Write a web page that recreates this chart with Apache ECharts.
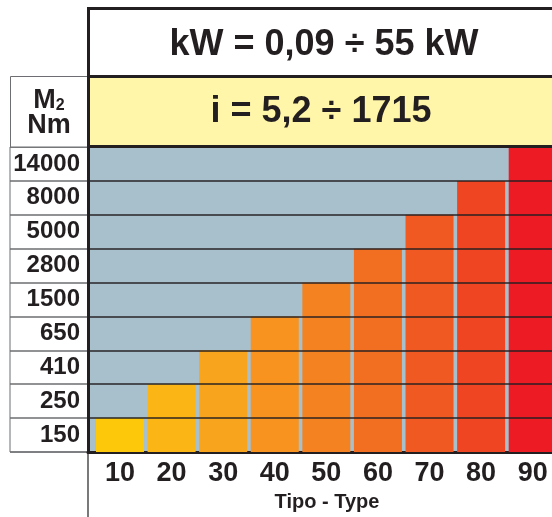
<!DOCTYPE html>
<html><head><meta charset="utf-8">
<script src="https://cdn.jsdelivr.net/npm/echarts@6/dist/echarts.min.js"></script>
<style>html,body{margin:0;padding:0;background:#fff}#c{width:552px;height:517px}</style>
</head><body><div id="c"></div>
<script>
const types = [10, 20, 30, 40, 50, 60, 70, 80, 90];
const torqueTicks = ['150', '250', '410', '650', '1500', '2800', '5000', '8000', '14000'];
const maxTorque = ['150', '250', '410', '650', '1500', '2800', '5000', '8000', '14000'];
const barColors = ['#fec80a', '#fbb615', '#f8a51d', '#f7931e', '#f58220', '#f26f21', '#f05a22', '#ef4523', '#ed1c24'];
const powerText = 'kW = 0,09 ÷ 55 kW';
const ratioText = 'i = 5,2 ÷ 1715';
const xTitle = 'Tipo - Type';

const ink = '#231f20';
const chart = echarts.init(document.getElementById('c'), null, {renderer: 'canvas'});
const barData = types.map((t, i) => ({
  value: [t, torqueTicks.indexOf(maxTorque[i]) + 1],
  itemStyle: {color: barColors[i]}
}));
const rowLines = torqueTicks.slice(1).map((_, i) => ({yAxis: i + 1}));
const sans = "'Liberation Sans', Arial, sans-serif";
chart.setOption({
  animation: false,
  grid: [
    {left: 88, top: 147, right: 0, height: 305, show: true, backgroundColor: '#a8bfcc', borderWidth: 0},
    {left: 10, top: 147, width: 78, height: 305, show: true, backgroundColor: '#ffffff', borderColor: '#6d6e71', borderWidth: 1}
  ],
  xAxis: [
    {gridIndex: 0, type: 'value', min: 3.8, max: 93.74,
     axisLine: {show: true, onZero: false, lineStyle: {color: ink, width: 3}},
     axisTick: {show: false}, splitLine: {show: false},
     axisLabel: {customValues: types, margin: 8, color: ink, fontSize: 27, fontWeight: 'bold', fontFamily: sans}},
    {gridIndex: 1, type: 'value', show: false}
  ],
  yAxis: [
    {gridIndex: 0, type: 'value', min: 0, max: 9, interval: 1,
     axisLine: {show: true, lineStyle: {color: ink, width: 3}},
     axisTick: {show: false}, axisLabel: {show: false},
     splitLine: {show: false}},
    {gridIndex: 1, type: 'category', data: torqueTicks, position: 'right',
     axisLine: {show: false}, axisTick: {show: false},
     axisLabel: {inside: true, interval: 0, margin: 8, color: ink, fontSize: 24, fontWeight: 'bold', fontFamily: sans},
     splitLine: {show: true, lineStyle: {color: '#6d6e71', width: 1.5}}}
  ],
  series: [{
    type: 'bar', xAxisIndex: 0, yAxisIndex: 0, barWidth: 48, data: barData, z: 2,
    markLine: {silent: true, symbol: 'none', label: {show: false}, z: 8,
      lineStyle: {type: 'solid', color: 'rgba(35,31,32,0.72)', width: 2},
      data: rowLines}
  }],
  graphic: [
    {type: 'rect', shape: {x: 88.5, y: 8.5, width: 480, height: 68}, style: {fill: '#fff', stroke: ink, lineWidth: 3}, z: 5},
    {type: 'rect', shape: {x: 88.5, y: 76.5, width: 480, height: 70}, style: {fill: '#fff6a9', stroke: ink, lineWidth: 3}, z: 5},
    {type: 'rect', shape: {x: 10.5, y: 76.5, width: 78, height: 70.5}, style: {fill: '#fff', stroke: '#6d6e71', lineWidth: 1}, z: 4},
    {type: 'line', shape: {x1: 88, y1: 452, x2: 88, y2: 517}, style: {stroke: ink, lineWidth: 1.2}, z: 5},
    {type: 'text', x: 324, y: 45, style: {text: powerText, fill: ink, font: "bold 36px " + sans, textAlign: 'center', textVerticalAlign: 'middle'}, z: 6},
    {type: 'text', x: 321, y: 112, style: {text: ratioText, fill: ink, font: "bold 36px " + sans, textAlign: 'center', textVerticalAlign: 'middle'}, z: 6},
    {type: 'text', x: 49, y: 100, style: {text: '{a|M}{b|2}', textAlign: 'center', textVerticalAlign: 'middle',
      rich: {a: {fontSize: 27, fontWeight: 'bold', fill: ink, fontFamily: sans, verticalAlign: 'bottom', lineHeight: 28},
             b: {fontSize: 16, fontWeight: 'bold', fill: ink, fontFamily: sans, verticalAlign: 'bottom', lineHeight: 22}}}, z: 6},
    {type: 'text', x: 49, y: 126, style: {text: 'Nm', fill: ink, font: "bold 27px " + sans, textAlign: 'center', textVerticalAlign: 'middle'}, z: 6},
    {type: 'text', x: 327, y: 502, style: {text: xTitle, fill: ink, font: "bold 20px " + sans, textAlign: 'center', textVerticalAlign: 'middle'}, z: 6}
  ]
});
</script></body></html>
